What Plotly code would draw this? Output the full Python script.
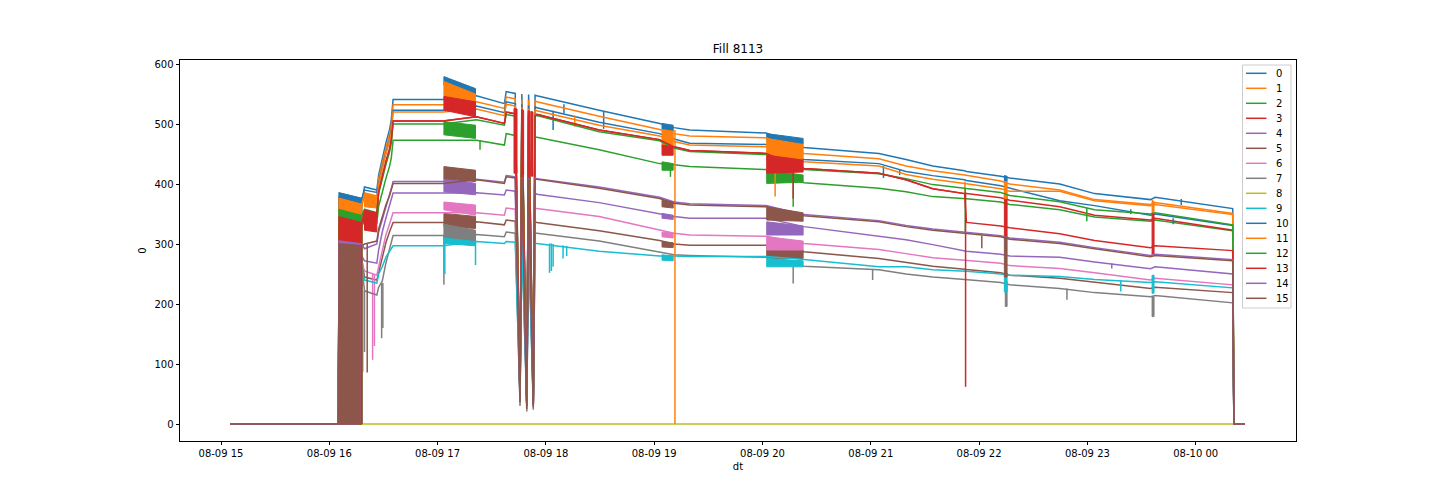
import plotly.graph_objects as go

# ---------------- data ----------------
NAMES = [str(i) for i in range(16)]

TIMES = ["15:05", "16:05", "16:05:30", "16:18", "16:19:30", "16:26:20", "16:27:20",
         "16:29:20", "16:31:20", "16:33:20", "16:34:20", "16:35:20", "17:03", "17:21:30",
         "17:37", "17:38", "17:43", "17:45:40", "17:46:40", "17:49:25", "17:50:25",
         "17:53:00", "17:54:00", "17:55", "18:29:30", "19:03", "19:11", "19:19:40",
         "20:02", "20:23", "21:04:30", "21:19:30", "21:34:20", "21:52", "21:53", "22:12",
         "22:17", "22:44:40", "23:04", "23:35", "23:37:30", "00:20:30", "00:21:10", "00:27:20"]

S0 = [0, 0, 378, 370, 395, 390, 415, 443, 468, 490, 507, 541, 541, 547, 534, 554, 551, 40, 550, 31, 549, 33, 548, 547, 523, 501, 494, 490, 485, 461, 451, 441, 430, 422, 421, 413, 410, 400, 384, 374, 378, 359, 0, 0]
S1 = [0, 0, 370, 362, 385, 380, 408, 435, 460, 482, 498, 532, 532, 537, 526, 545, 542, 40, 541, 31, 540, 33, 539, 537, 513, 491, 484, 480, 477, 451, 442, 430, 422, 415, 414.5, 405, 400, 390, 374, 366, 369, 351, 0, 0]
S2 = [0, 0, 340, 330, 340, 335, 363, 387, 409, 429, 443, 473, 473, 473, 465, 484, 481, 40, 480, 31, 479, 33, 478, 478, 457, 434, 432, 429, 424, 402, 393, 387, 379, 376, 375.5, 370, 366, 357, 345, 338, 340, 322, 0, 0]
S3 = [0, 0, 335, 326, 350, 345, 387, 414, 437, 458, 473, 505, 505, 512, 501, 520, 517, 40, 516, 31, 515, 33, 514, 516, 490, 474, 462, 456, 451, 426, 418, 407, 392, 384, 384, 377, 373, 362, 348, 340, 343, 323, 0, 0]
S4 = [0, 0, 285, 280, 272, 268, 290, 320, 343, 362, 372, 385, 385, 385.5, 381.7, 390, 388, 42, 387, 32, 386, 34, 385, 383, 369, 351, 346, 343, 343, 329, 313, 307, 299, 288, 288, 283, 280, 278, 270, 259, 262, 250, 0, 0]
S5 = [0, 0, 280, 275, 245, 240, 252, 278, 302, 320, 328, 336, 336, 337, 332, 340, 338, 40, 338, 30, 337, 32, 337, 336, 322, 306, 300, 298, 298, 287, 276, 269, 263, 258, 257.5, 252, 248, 243, 236, 226, 228, 219, 0, 0]
S6 = [0, 0, 275, 270, 255, 248, 262, 288, 315, 333, 342, 352, 352, 352, 348, 360, 358, 45, 358, 34, 358, 36, 359, 359, 346, 324, 318, 315, 313, 301, 291, 284, 277, 273, 272.7, 268, 264, 259, 252, 240, 243, 232, 0, 0]
S7 = [0, 0, 270, 265, 222, 215, 228, 238, 268, 292, 302, 314, 314, 316, 312, 320, 318, 30, 318, 21, 318, 24, 318, 318, 305, 287, 282, 281, 278, 263, 257, 250, 245, 241, 240.8, 236, 232, 226, 219, 212, 214, 202, 0, 0]
S8 = [0] * 44
S9 = [0, 0, 265, 260, 240, 235, 250, 262, 278, 288, 292, 297, 297, 304, 301, 304, 303, 45, 303, 35, 302, 38, 301, 301, 288, 280, 280, 279, 279, 274, 262, 262, 257, 255, 254.8, 250, 248, 246, 241, 236, 237, 227, 0, 0]
S10 = [0, 0, 385, 376, 390, 386, 401, 428, 452, 474, 490, 523, 523, 530, 519, 537, 534, 40, 533, 31, 531, 33, 529, 527, 503, 484, 475, 468, 466, 441, 434, 421, 414, 407, 406, 397, 393, 372, 364, 348, 350, 331, 0, 0]
S11 = [0, 0, 376, 366, 382, 376, 399, 426, 450, 471, 487, 520, 520, 525, 514, 533, 530, 40, 528, 31, 526, 33, 524, 522, 498, 480, 471, 465, 462, 437, 430, 416, 408, 401, 400.5, 392, 388, 388, 372, 364, 366, 349, 0, 0]
S12 = [0, 0, 357, 347, 358, 352, 384, 410, 432, 453, 468, 500, 500, 507, 498, 516, 513, 40, 513, 31, 513, 33, 513, 514, 487, 472, 460, 454, 449, 424, 417, 409, 399, 393, 392.5, 386, 381, 370.5, 357, 350, 352, 332, 0, 0]
S13 = [0, 0, 345, 335, 355, 350, 388, 414, 437, 458, 473, 505, 505, 512, 501, 520, 517, 40, 516, 31, 515, 33, 514, 516, 490, 474, 462, 456, 451, 426, 418, 407, 392, 384, 336, 330, 327, 317, 306, 294, 297, 289, 0, 0]
S14 = [0, 0, 305, 300, 292, 300, 320, 342, 362, 382, 392, 404, 404, 408, 403, 414, 412, 40, 411, 30, 410, 32, 410, 409, 395, 378, 370, 367, 364, 349, 339, 331, 325, 320, 319, 314, 310, 303, 294, 281, 283, 274, 0, 0]
S15 = [0, 0, 300, 297, 300, 305, 325, 345, 365, 380, 390, 401, 401, 407, 401, 412, 410, 36, 409, 25, 408, 28, 408, 408, 393, 376, 368, 365, 362, 347, 337, 329, 323, 318, 317.5, 312, 308, 301, 292, 279, 281, 272, 0, 0]

SERIES = [S0, S1, S2, S3, S4, S5, S6, S7, S8, S9, S10, S11, S12, S13, S14, S15]

# fast oscillation envelopes: (series, t_start, t_end, high_start, high_end, low_start, low_end)
BANDS = [
    (0, "16:05:30", "16:18", 378, 370, 0, 0), (1, "16:05:30", "16:18", 370, 362, 0, 0),
    (2, "16:05:30", "16:18", 340, 330, 0, 0), (3, "16:05:30", "16:18", 335, 326, 0, 0),
    (4, "16:05:30", "16:18", 285, 280, 0, 0), (5, "16:05:30", "16:18", 280, 275, 0, 0),
    (6, "16:05:30", "16:18", 275, 270, 0, 0), (7, "16:05:30", "16:18", 270, 265, 0, 0),
    (9, "16:05:30", "16:18", 265, 260, 0, 0), (10, "16:05:30", "16:18", 385, 376, 0, 0),
    (11, "16:05:30", "16:18", 376, 366, 0, 0), (12, "16:05:30", "16:18", 357, 347, 0, 0),
    (13, "16:05:30", "16:18", 345, 335, 0, 0), (14, "16:05:30", "16:17", 305, 300, 0, 0),
    (15, "16:05:30", "16:17", 300, 297, 0, 0),
    (11, "16:19:30", "16:26:20", 385, 378, 362, 360), (13, "16:19:30", "16:26:20", 357, 352, 323, 320),
    (0, "17:03:30", "17:21", 579, 559, 565, 548), (11, "17:03:30", "17:21", 571, 550, 543, 528),
    (13, "17:03:30", "17:21", 546, 537, 523, 512), (2, "17:03:30", "17:21", 504, 498, 482, 476),
    (15, "17:03:30", "17:21", 429, 423, 409, 404), (4, "17:03:30", "17:21", 410, 401, 387, 382),
    (6, "17:03:30", "17:21", 370, 365, 357, 348), (5, "17:03:30", "17:21", 351, 346, 329, 326),
    (7, "17:03:30", "17:21", 333, 323, 310, 304), (9, "17:03:30", "17:21", 310, 304, 301, 297),
    (13, "17:42:20", "17:44:00", 526, 525, 418, 418), (13, "17:46:30", "17:47:40", 524, 523, 416, 416),
    (13, "17:50:10", "17:51:20", 522, 521, 414, 414), (13, "17:52:00", "17:52:50", 521, 520, 413, 413),
    (0, "19:04:20", "19:10:30", 501, 498, 490, 488), (11, "19:04:20", "19:10:30", 491, 488, 462, 462),
    (13, "19:04:20", "19:10:30", 465, 462, 448, 448), (2, "19:04:20", "19:10:30", 437, 434, 423, 423),
    (15, "19:04:20", "19:10:30", 373, 370, 362, 360), (4, "19:04:20", "19:10:30", 351, 348, 343, 341),
    (6, "19:04:20", "19:10:30", 320, 318, 312, 310), (5, "19:04:20", "19:10:30", 304, 302, 295, 294),
    (9, "19:04:20", "19:10:30", 282, 280, 273, 272),
    (0, "20:02:20", "20:22:30", 484, 476, 472, 466), (11, "20:02:20", "20:22:30", 476, 466, 440, 442),
    (13, "20:02:20", "20:22:30", 448, 440, 418, 420), (2, "20:02:20", "20:22:30", 423, 415, 401, 403),
    (15, "20:02:20", "20:22:30", 362, 352, 340, 338), (4, "20:02:20", "20:22:30", 337, 330, 315, 315),
    (6, "20:02:20", "20:22:30", 312, 305, 290, 290), (5, "20:02:20", "20:22:30", 295, 290, 276, 276),
    (9, "20:02:20", "20:22:30", 276, 272, 262, 262),
    (0, "22:14", "22:15:30", 414, 413, 404, 404), (11, "22:14", "22:15:30", 404, 404, 376, 376),
    (3, "22:14", "22:15:30", 382, 382, 312, 312), (15, "22:14", "22:15:30", 312, 312, 245, 245),
    (9, "22:14", "22:15:30", 252, 252, 220, 220), (7, "22:14:30", "22:15:30", 238, 238, 196, 196),
    (11, "23:35:50", "23:36:55", 373, 371, 351, 351), (13, "23:35:50", "23:36:55", 351, 350, 282, 282),
    (9, "23:35:50", "23:36:55", 248, 248, 218, 218), (7, "23:35:50", "23:36:55", 212, 212, 179, 179),
]

# short excursions: (series, time, from_value, to_value)
SPIKES = [
    (7, "16:18:30", 222, 87), (7, "16:19:30", 222, 120), (15, "16:21", 300, 86),
    (6, "16:24", 250, 107), (6, "16:25", 250, 130), (7, "16:29", 235, 143), (7, "16:29:40", 235, 160),
    (7, "17:03:30", 314, 232), (9, "17:04", 300, 250), (9, "17:21", 304, 265), (2, "17:23:30", 473, 457),
    (10, "18:04", 522, 490), (0, "18:10", 533, 518), (11, "18:16", 514, 496), (0, "18:32", 521, 492),
    (9, "18:02", 301, 252), (9, "18:03", 301, 255), (9, "18:04", 300, 262),
    (9, "18:09:30", 298, 276), (9, "18:11:30", 297, 280),
    (2, "19:09", 432, 412), (11, "19:11:30", 490, 0),
    (11, "20:07", 455, 379), (2, "20:17", 410, 362), (13, "20:17", 425, 376), (7, "20:17", 262, 234),
    (7, "21:01", 257, 240), (10, "21:07", 430, 410), (10, "21:16", 425, 415),
    (11, "21:52:10", 404, 376), (12, "21:52:20", 393, 320), (13, "21:52:30", 386, 62),
    (15, "22:01:30", 314, 293), (7, "22:48:40", 226, 207), (12, "22:59:40", 360, 338),
    (4, "23:13:30", 268, 259), (9, "23:18:30", 239, 221), (10, "23:24", 358, 350),
    (10, "23:47:30", 343, 333), (0, "23:52", 375, 365),
]

# ---------------- style ----------------
COLORS = ["#1f77b4", "#ff7f0e", "#2ca02c", "#d62728", "#9467bd", "#8c564b", "#e377c2",
          "#7f7f7f", "#bcbd22", "#17becf"]
FONT = "DejaVu Sans"
W, H = 1440, 504
OFF = 8  # page body margin of the html page
ML, MR, MT, MB = 180 - OFF, 144 + OFF, 60 - OFF, 63 + OFF


def ts(hm):
    p = hm.split(":")
    if len(p) == 2:
        hm = hm + ":00"
    day = "2022-08-10" if int(p[0]) < 12 else "2022-08-09"
    return f"{day} {hm}"


x = [ts(t) for t in TIMES]
fig = go.Figure()
for i, (name, vals) in enumerate(zip(NAMES, SERIES)):
    assert len(vals) == len(TIMES)
    c = COLORS[i % 10]
    fig.add_trace(go.Scatter(x=x, y=vals, mode="lines", name=name,
                             line=dict(color=c, width=1.5), showlegend=False))
    bx, by = [], []
    for (s, t0, t1, h0, h1, l0, l1) in BANDS:
        if s == i:
            bx += [ts(t0), ts(t1), ts(t1), ts(t0), ts(t0), None]
            by += [h0, h1, l1, l0, h0, None]
    if bx:
        fig.add_trace(go.Scatter(x=bx, y=by, mode="lines", fill="toself", fillcolor=c,
                                 line=dict(color=c, width=1), showlegend=False,
                                 hoverinfo="skip"))
    sx, sy = [], []
    for (s, t, top, bot) in SPIKES:
        if s == i:
            sx += [ts(t), ts(t), None]
            sy += [top, bot, None]
    if sx:
        fig.add_trace(go.Scatter(x=sx, y=sy, mode="lines", line=dict(color=c, width=1.5),
                                 showlegend=False, hoverinfo="skip"))

pw, ph = W - ML - MR, H - MT - MB


def px(X):  # page pixel -> paper fraction
    return (X - OFF - ML) / pw


def py(Y):
    return (H - MB - (Y - OFF)) / ph


shapes, annotations = [], []
shapes.append(dict(type="rect", xref="paper", yref="paper", x0=px(1242.5), x1=px(1291),
                   y0=py(308), y1=py(65), line=dict(color="#cccccc", width=1),
                   fillcolor="rgba(255,255,255,0.8)", layer="above"))
for i, name in enumerate(NAMES):
    yy = py(73.3 + 15 * i)
    shapes.append(dict(type="line", xref="paper", yref="paper", x0=px(1246), x1=px(1266.5),
                       y0=yy, y1=yy, line=dict(color=COLORS[i % 10], width=1.5), layer="above"))
    annotations.append(dict(xref="paper", yref="paper", x=px(1274), y=yy, text=name,
                            showarrow=False, xanchor="left", yanchor="middle",
                            font=dict(family=FONT, size=10, color="black")))

axis_common = dict(showline=True, mirror=True, linecolor="black", linewidth=0.8,
                   ticks="outside", ticklen=3.5, tickwidth=0.8, tickcolor="black",
                   showgrid=False, zeroline=False,
                   tickfont=dict(family=FONT, size=10, color="black"))

fig.update_layout(
    width=W, height=H, margin=dict(l=ML, r=MR, t=MT, b=MB),
    paper_bgcolor="white", plot_bgcolor="white",
    font=dict(family=FONT, size=10, color="black"),
    title=dict(text="Fill 8113", x=0.5, xref="paper", xanchor="center",
               y=1 - (49 - OFF) / H, yref="container", yanchor="middle",
               font=dict(family=FONT, size=12, color="black")),
    xaxis=dict(type="date", range=[ts("14:37:17"), ts("00:55:34")],
               tick0="2022-08-09 00:00:00", dtick=3600000, tickformat="%m-%d %H",
               title=dict(text="dt", standoff=4, font=dict(family=FONT, size=10, color="black")),
               **axis_common),
    yaxis=dict(range=[-28.3, 606.7], tick0=0, dtick=100,
               title=dict(text="0", standoff=6, font=dict(family=FONT, size=10, color="black")),
               **axis_common),
    shapes=shapes, annotations=annotations, showlegend=False,
)

fig.write_html("out.html")
